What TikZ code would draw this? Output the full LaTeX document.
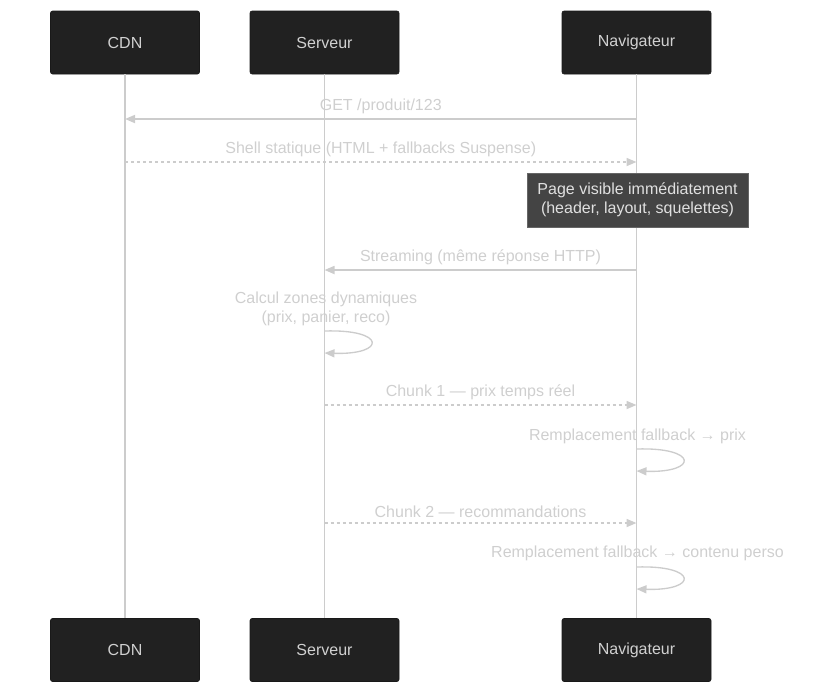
\documentclass[tikz,border=0pt]{standalone}
\usepackage{fontspec}
\setmainfont{Liberation Sans}
\usetikzlibrary{arrows.meta,calc}
\definecolor{boxfill}{HTML}{212121}
\definecolor{notefill}{HTML}{444444}
\definecolor{linegray}{HTML}{CCCCCC}
\definecolor{textgray}{HTML}{CFCFCF}

\begin{document}
\begin{tikzpicture}[x=0.75pt,y=-0.75pt,
  font=\fontsize{12}{14}\selectfont,
  actor/.style={draw=black!90,fill=boxfill,rounded corners=1.5pt,minimum width=111.75pt,minimum height=47.25pt,text=black!18},
  note/.style={draw=black!60,fill=notefill,minimum width=165.75pt,minimum height=40.5pt,align=center,text=black!12,inner sep=2pt},
  life/.style={draw=linegray,line width=1.3pt},
  msg/.style={draw=linegray,line width=1.3pt,-{Triangle[length=7.5pt,width=6pt]},text=textgray},
  reply/.style={msg,dash pattern=on 2.25pt off 2.25pt},
  loop/.style={draw=linegray,line width=1pt,-{Triangle[length=7.5pt,width=6pt]}},
  lbl/.style={text=textgray,align=center,inner sep=0pt}]

\useasboundingbox (0,0) rectangle (835,694);

%Actors, top and bottom
\node[actor] (cdnT) at (125,42.5) {CDN};
\node[actor] (srvT) at (324.5,42.5) {Serveur};
\node[actor] (navT) at (636.5,42.5) {Navigateur};
\node[actor] (cdnB) at (125,650) {CDN};
\node[actor] (srvB) at (324.5,650) {Serveur};
\node[actor] (navB) at (636.5,650) {Navigateur};

%Lifelines
\draw[life] (cdnT) -- (cdnB);
\draw[life] (srvT) -- (srvB);
\draw[life] (navT) -- (navB);

%Marking coordinates on the lifelines
\coordinate (getN) at (navT |- 0,119);
\coordinate (getC) at (cdnT |- 0,119);
\coordinate (shellC) at (cdnT |- 0,162);
\coordinate (shellN) at (navT |- 0,162);
\coordinate (strN) at (navT |- 0,270);
\coordinate (strS) at (srvT |- 0,270);
\coordinate (calcA) at (srvT |- 0,331);
\coordinate (calcB) at (srvT |- 0,353);
\coordinate (ch1S) at (srvT |- 0,405);
\coordinate (ch1N) at (navT |- 0,405);
\coordinate (rep1A) at (navT |- 0,449);
\coordinate (rep1B) at (navT |- 0,471);
\coordinate (ch2S) at (srvT |- 0,523);
\coordinate (ch2N) at (navT |- 0,523);
\coordinate (rep2A) at (navT |- 0,567);
\coordinate (rep2B) at (navT |- 0,589);

%Messages
\draw[msg] (getN) -- node[lbl,above=3pt] {GET /produit/123} (getC);
\draw[reply] (shellC) -- node[lbl,above=3pt] {Shell statique (HTML + fallbacks Suspense)} (shellN);
\node[note] (page) at (637.5,200) {Page visible immédiatement\\(header, layout, squelettes)};
\draw[msg] (strN) -- node[lbl,above=3pt] {Streaming (même réponse HTTP)} (strS);

%Self calls
\node[lbl] (calcL) at (326,309) {Calcul zones dynamiques\\(prix, panier, reco)};
\draw[loop] (calcA) .. controls ($(calcA)+(62,-2)$) and ($(calcB)+(62,2)$) .. (calcB);

\draw[reply] (ch1S) -- node[lbl,above=3pt] {Chunk 1 — prix temps réel} (ch1N);
\node[lbl] (rep1L) at (637.5,436) {Remplacement fallback → prix};
\draw[loop] (rep1A) .. controls ($(rep1A)+(62,-2)$) and ($(rep1B)+(62,2)$) .. (rep1B);

\draw[reply] (ch2S) -- node[lbl,above=3pt] {Chunk 2 — recommandations} (ch2N);
\node[lbl] (rep2L) at (637.5,553) {Remplacement fallback → contenu perso};
\draw[loop] (rep2A) .. controls ($(rep2A)+(62,-2)$) and ($(rep2B)+(62,2)$) .. (rep2B);
\end{tikzpicture}
\end{document}
